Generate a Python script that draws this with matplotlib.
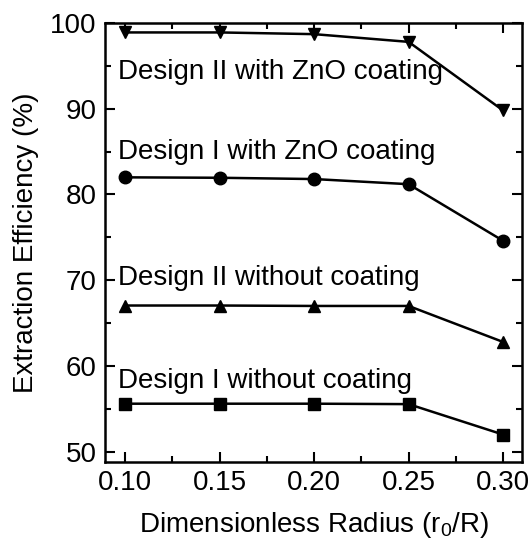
import matplotlib
matplotlib.use("Agg")
import matplotlib.pyplot as plt
from matplotlib.ticker import MultipleLocator

plt.rcParams['font.family'] = ['Liberation Sans', 'DejaVu Sans']
plt.rcParams['mathtext.fontset'] = 'custom'
plt.rcParams['mathtext.rm'] = 'Liberation Sans'

radius = [0.10, 0.15, 0.20, 0.25, 0.30]
design2_zno = [98.9, 98.9, 98.7, 97.8, 89.8]
design1_zno = [82.0, 81.95, 81.8, 81.2, 74.6]
design2_bare = [67.05, 67.05, 67.0, 67.0, 62.8]
design1_bare = [55.6, 55.6, 55.6, 55.55, 52.0]

series = [
    (design2_zno, 'v', "Design II with ZnO coating", 94.3),
    (design1_zno, 'o', "Design I with ZnO coating", 85.0),
    (design2_bare, '^', "Design II without coating", 70.25),
    (design1_bare, 's', "Design I without coating", 58.2),
]

FS = 20

fig = plt.figure(figsize=(5.30, 5.43), dpi=100)
ax = fig.add_axes([105/530, 1 - 462/543, 417/530, (462-23)/543])

for values, marker, label, ly in series:
    ax.plot(radius, values, color='black', lw=1.8, marker=marker,
            ms=9 if marker != 's' else 8, markerfacecolor='black')
    ax.text(0.0963, ly, label, fontsize=FS, va='center', ha='left')

ax.set_xlim(0.0894, 0.310)
ax.set_ylim(48.8, 100)
ax.xaxis.set_minor_locator(MultipleLocator(0.025))
ax.yaxis.set_major_locator(MultipleLocator(10))
ax.yaxis.set_minor_locator(MultipleLocator(5))
ax.set_xticks(radius)
ax.set_xticklabels([f"{r:.2f}" for r in radius])
ax.tick_params(which='both', direction='in', top=True, right=True,
               width=1.5, labelsize=FS)
ax.tick_params(which='major', length=7, pad=6)
ax.tick_params(which='minor', length=4)
for s in ax.spines.values():
    s.set_linewidth(1.8)

ax.set_xlabel("Dimensionless Radius (r$_0$/R)", fontsize=FS, labelpad=10)
ax.set_ylabel("Extraction Efficiency (%)", fontsize=FS, labelpad=8)

fig.savefig("out.png", dpi=100)
